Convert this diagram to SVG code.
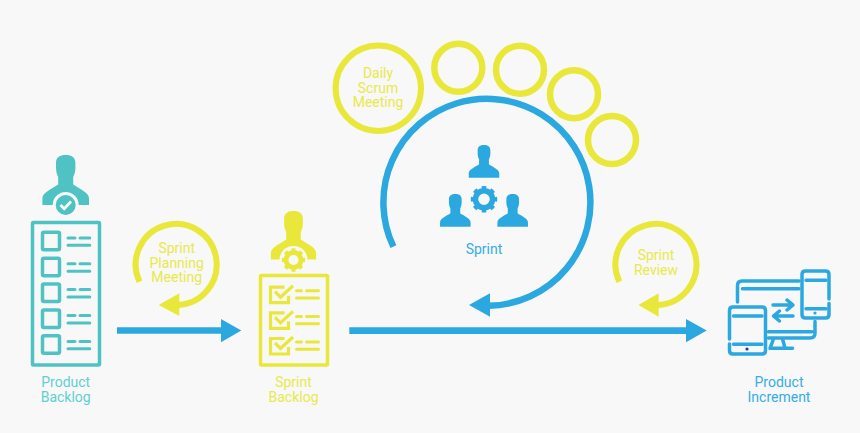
<svg xmlns="http://www.w3.org/2000/svg" xmlns:xlink="http://www.w3.org/1999/xlink" width="860" height="433" viewBox="0 0 860 433">
<style>
text{font-family:Roboto,"Liberation Sans",sans-serif;font-size:14px;text-anchor:middle}
.tt{fill:#5fd0d0}.ty{fill:#e9e94a}.tb{fill:#35ade6}
.sy{fill:none;stroke:#e9e83a}.st{fill:none;stroke:#4fc3c3}.sb{fill:none;stroke:#2ba8e0}
.f-b{fill:#2ba8e0}.f-y{fill:#e9e83a}
</style>
<defs>
<path id="person" d="M-9.700 8C-9.700 2.500-6 0 0 0S9.700 2.500 9.700 8V13C9.700 17 8.500 20 7.500 22V29.500C12 33 23.300 37.500 23.300 43V50H-23.300V43C-23.300 37.500-12 33-7.500 29.500V22C-8.500 20-9.700 17-9.700 13Z"/>
<g id="gear"><circle r="8.500" fill="none" stroke="currentColor" stroke-width="5.500"/><circle r="11.500" fill="none" stroke="currentColor" stroke-width="3.500" pathLength="80" stroke-dasharray="5 5" stroke-dashoffset="2.500"/></g>
<g id="tealrow" class="st" stroke-linecap="round"><rect x="42.500" y="0" width="17" height="17.500" rx="1.500" stroke-width="3.500"/><path d="M68 5.600H75M80 5.600H89.800M68 13H89.800" stroke-width="3"/></g>
<g id="yellowrow" class="sy"><path d="M284.500 1.500H270.500V17H288.500V10" stroke-width="3.200"/><path d="M275 6L280.500 11.500L293 0" stroke-width="3.200"/><path d="M296.500 5H301.500M306.500 5H318.500M296.500 12.300H318.500" stroke-width="3" stroke-linecap="round"/></g>
</defs>
<rect width="860" height="433" fill="#f8f8f8"/>
<g id="connectors">
<path class="f-b" d="M117 327.300H221V319L241.300 330.500L221 342.300V333.700H117Z"/>
<path class="f-b" d="M349.300 327.300H686V319L706.700 330.500L686 342.300V334H349.300Z"/>
<path class="sb" stroke-width="6.500" d="M393.400 246.700A103.500 103.500 0 1 1 489 305.800"/>
<path class="f-b" d="M469 305L490 293.300V316.700Z"/>
<path class="sy" stroke-width="6" d="M139.500 281.700A40.500 40.500 0 1 1 176 305"/>
<path class="f-y" d="M158.700 305L179.300 293.300V316Z"/>
<path class="sy" stroke-width="6" d="M619.300 281.700A40.500 40.500 0 1 1 657 305"/>
<path class="f-y" d="M638.300 305L658.700 293.300V316.700Z"/>
</g>
<g id="product-backlog">
<use xlink:href="#person" href="#person" x="65.700" y="155" fill="#4fc3c3"/>
<circle cx="65.700" cy="205" r="13" fill="#f8f8f8"/><circle cx="65.700" cy="205" r="10" fill="#4fc3c3"/>
<path d="M60.500 205L64.200 208.800L71 201.500" fill="none" stroke="#f8f8f8" stroke-width="2.800"/>
<rect x="32.500" y="222.500" width="67" height="142.500" rx="1" class="st" stroke-width="3.500"/>
<use xlink:href="#tealrow" href="#tealrow" y="232.300"/><use xlink:href="#tealrow" href="#tealrow" y="258.200"/><use xlink:href="#tealrow" href="#tealrow" y="284"/><use xlink:href="#tealrow" href="#tealrow" y="310"/><use xlink:href="#tealrow" href="#tealrow" y="335.800"/>
<text class="tt" x="65.700" y="387">Product</text><text class="tt" x="65.700" y="402">Backlog</text>
</g>
<g id="sprint-planning-meeting"><text class="ty" x="176.700" y="253">Sprint</text><text class="ty" x="176.700" y="267.500">Planning</text><text class="ty" x="176.700" y="282">Meeting</text></g>
<g id="sprint-backlog">
<use xlink:href="#person" href="#person" transform="translate(293.500 211) scale(.97)" fill="#e9e83a"/>
<circle cx="293.500" cy="260" r="14" fill="#f8f8f8"/>
<use xlink:href="#gear" href="#gear" transform="translate(293.500 260) scale(.88)" color="#e9e83a"/>
<rect x="260.500" y="275.500" width="67" height="89.500" rx="1" class="sy" stroke-width="3.500"/>
<use xlink:href="#yellowrow" href="#yellowrow" y="285.700"/><use xlink:href="#yellowrow" href="#yellowrow" y="311.400"/><use xlink:href="#yellowrow" href="#yellowrow" y="337"/>
<text class="ty" x="293.500" y="387">Sprint</text><text class="ty" x="293.500" y="402">Backlog</text>
</g>
<g id="daily-scrum-meeting">
<circle cx="378.300" cy="88.300" r="42.700" class="sy" stroke-width="6"/>
<text class="ty" x="378" y="77.500">Daily</text><text class="ty" x="378" y="92.500">Scrum</text><text class="ty" x="378" y="107">Meeting</text>
</g>
<g id="scrum-1"><circle cx="458.300" cy="67.800" r="24" class="sy" stroke-width="6.500"/></g>
<g id="scrum-2"><circle cx="520" cy="69.700" r="24" class="sy" stroke-width="6.500"/></g>
<g id="scrum-3"><circle cx="574" cy="94.200" r="24" class="sy" stroke-width="6.500"/></g>
<g id="scrum-4"><circle cx="612" cy="140" r="24" class="sy" stroke-width="6.500"/></g>
<g id="sprint" class="f-b">
<use xlink:href="#person" href="#person" transform="translate(484 145) scale(.655)"/>
<use xlink:href="#person" href="#person" transform="translate(455.300 194) scale(.655)"/>
<use xlink:href="#person" href="#person" transform="translate(512.700 194) scale(.655)"/>
<use xlink:href="#gear" href="#gear" transform="translate(484 199.300)" color="#2ba8e0"/>
<text class="tb" x="484" y="254">Sprint</text>
</g>
<g id="sprint-review"><text class="ty" x="656" y="260">Sprint</text><text class="ty" x="656" y="274.700">Review</text></g>
<g id="product-increment">
<g class="sb" stroke-width="3.500" stroke-linecap="round" stroke-linejoin="round">
<path d="M737.500 302V285.500Q737.500 281 742 281H799M742.500 288.700H799"/>
<path d="M768.500 331.700H812M768.500 338H810Q815 338 815 333V321.500"/>
<path d="M773.500 339L770 348.300H792.500M782.500 339L785 348"/>
<path d="M829 299V274.500Q829 271 825.500 271H805.500Q802 271 802 274.500V314.500Q802 318 805.500 318H825.500Q829 318 829 314.500V303.500"/>
<path d="M806 280.300H826M806 308.700H826"/>
<path d="M729.500 339V310.500Q729.500 307 733 307H762Q765.500 307 765.500 310.500V350.500Q765.500 354 762 354H733Q729.500 354 729.500 350.500V344"/>
<path d="M733.500 316H762M733.500 344.300H762"/>
<path d="M773 305H792M787 300L793 305L787 310M793 316H774M779.500 311L773.500 316L779.500 321"/>
</g>
<circle cx="815" cy="313" r="1.600" class="f-b"/>
<circle cx="747" cy="349" r="1.600" fill="#1a2fd0"/>
<text class="tb" x="779" y="387">Product</text><text class="tb" x="779" y="401.700">Increment</text>
</g>
</svg>
